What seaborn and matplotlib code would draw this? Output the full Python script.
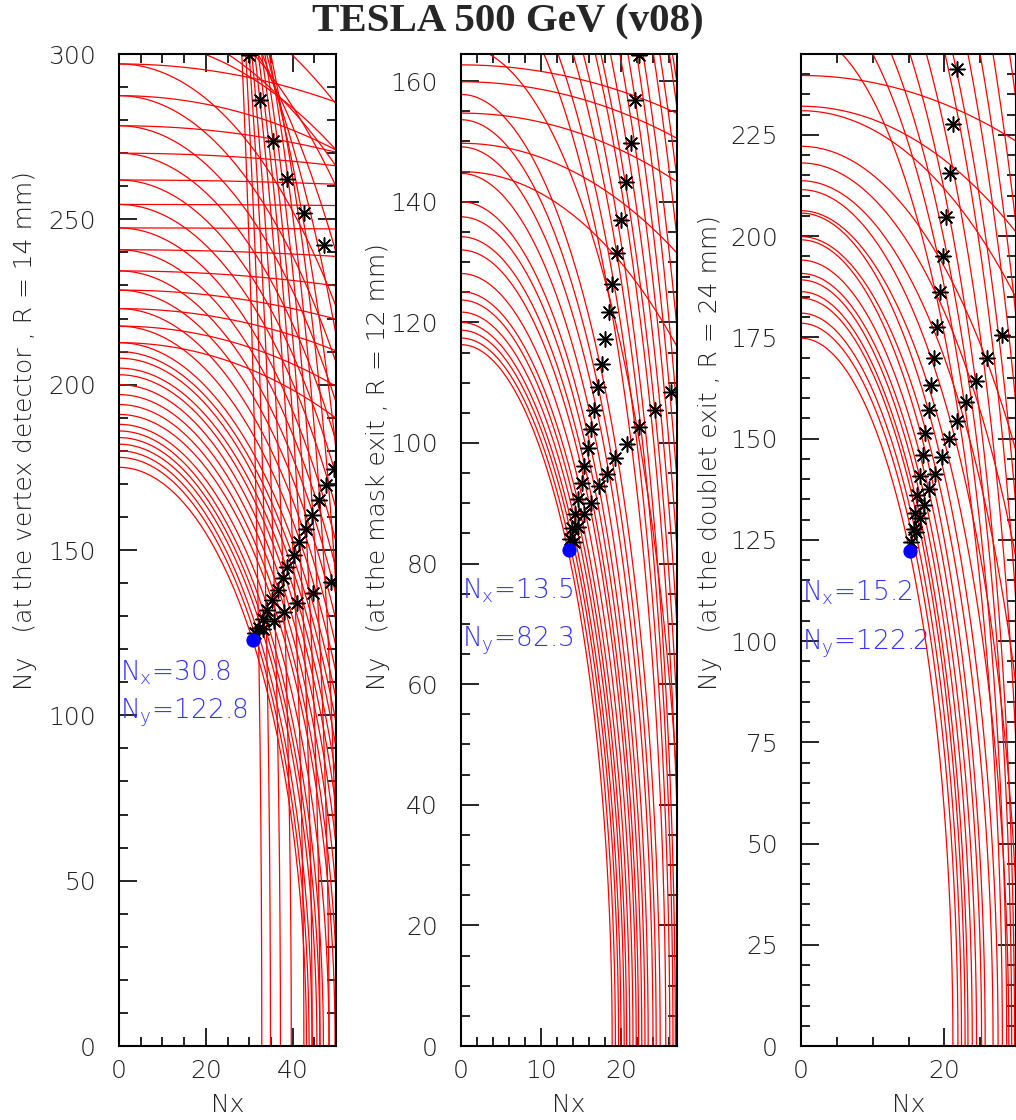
import numpy as np
import pandas as pd
import matplotlib
matplotlib.use("Agg")
import matplotlib.pyplot as plt
import seaborn as sns
from matplotlib.ticker import MultipleLocator

sns.set_theme(style="white")
plt.rcParams['font.family'] = ['DejaVu Sans']
plt.rcParams['mathtext.default'] = 'regular'

# ---------------- data ----------------
title = "TESLA 500 GeV (v08)"
xlabel = "Nx"
ylabels = ["Ny   (at the vertex detector , R = 14 mm)",
           "Ny   (at the mask exit , R = 12 mm)",
           "Ny   (at the doublet exit , R = 24 mm)"]

# Panel 1 : vertex detector -- ellipse intercepts (on Nx axis, on Ny axis)
vd_curved_a = [43.2, 43.8, 44.5, 45.6, 46.3, 47.1, 48.4, 49.8, 50.5, 51.5,
               52.5, 53.5, 54.5, 55.5, 56.5, 57.5, 58.5, 59.5, 60.5, 61.5,
               62.5, 63.5, 65, 66.5, 68, 70, 72, 76]
vd_curved_b = [175, 178, 180, 182, 184, 186, 188, 191, 194, 197,
               200, 203, 205, 208, 210, 212.7, 217.7, 223, 228.6, 234.4,
               240.8, 247.4, 254.5, 261.9, 270, 278.3, 287.4, 297]
vd_flat_a = [111, 125, 150, 182, 256, 388, 1000, 1000, 502, 299, 210, 150, 181, 109, 97, 105]
vd_flat_b = [212.7, 217.7, 223, 228.6, 234.4, 240.8, 247.4, 254.5, 261.9, 270, 278.3, 287.4, 297, 305, 310.5, 324]
vd_steep_a = [84.5, 71.6, 63.2, 57.1, 53.4, 50.5, 48.4, 46.3, 44.5, 42.6, 39.7, 37.2, 34.9, 32.9]
vd_steep_b = [322.5, 335.4, 351.8, 373.6, 397, 412, 417, 426, 433, 442, 471, 507, 548, 588]
vd_star_x = [30.0, 32.5, 35.4, 38.6, 42.6, 47.3,
             31.3, 32.3, 33.1, 34.2, 35.3, 36.6, 37.7, 38.8, 40.3, 41.5, 43.0, 44.5, 46.1, 47.6, 49.5,
             33.2, 35.8, 38.1, 41.1, 44.6, 48.8]
vd_star_y = [299.7, 286.2, 273.6, 262.2, 251.9, 242.2,
             124.9, 126.5, 129.0, 132.0, 134.8, 138.0, 141.6, 144.9, 148.5, 152.4, 156.4, 160.6, 165.0, 169.6, 174.6,
             126.0, 128.5, 131.3, 134.0, 137.0, 140.3]
vd_best = [30.8, 122.8]

# Panel 2 : mask exit
mk_curved_a = [18.9, 19.3, 19.7, 20.0, 20.4, 20.7, 21.1, 21.5, 21.9, 22.2,
               22.6, 23.0, 23.4, 24.0, 24.4, 24.9]
mk_curved_b = [116.3, 117.4, 118.7, 120.0, 121.7, 123.7, 125.1, 128.1, 132.0, 134.2,
               137.5, 140.0, 144.7, 149.1, 153.6, 157.8]
mk_flat_a = [45, 56.5, 71.7, 80, 87]
mk_flat_b = [145.0, 149.7, 154.7, 159.9, 162.7]
mk_steep_a = [28, 25.6, 26.1, 26.5, 26.8, 27.5, 28, 28.5, 29, 29.5, 30, 31, 32, 33, 34, 35]
mk_steep_b = [165.8, 179.9, 185.8, 193.8, 200.3, 207.7, 210.6, 217.8, 225.8, 232.7,
              241.4, 242.3, 249.5, 250.1, 256, 251]
mk_star_x = [22.3, 21.8, 21.2, 20.6, 20.0, 19.5, 18.9, 18.5, 18.0,
             17.6, 17.1, 16.6, 16.3, 15.9, 15.4, 15.1, 14.6, 14.2, 13.9, 13.6,
             14.1, 14.6, 15.4, 16.2, 17.2, 18.2, 19.3, 20.7, 22.2, 24.2, 26.3]
mk_star_y = [164.3, 156.9, 149.7, 143.2, 137.0, 131.5, 126.4, 121.7, 117.3,
             113.1, 109.2, 105.5, 102.3, 99.1, 96.1, 93.3, 90.7, 88.2, 85.9, 84.0,
             83.6, 86.1, 88.2, 90.1, 92.8, 94.9, 97.5, 99.8, 102.6, 105.5, 108.5]
mk_best = [13.5, 82.3]

# Panel 3 : doublet exit
db_curved_a = [21.2, 21.9, 22.4, 22.9, 23.3, 23.9, 24.5, 25.2, 25.7, 26.8,
               27.5, 29.0, 30.5, 33, 36, 40, 50, 60, 83]
db_curved_b = [174.8, 178.5, 181, 184.7, 186.3, 189.2, 190.8, 194.1, 199.1, 199.9,
               205.7, 206.3, 211.5, 213.7, 218.1, 222.2, 231, 232.1, 239.7]
db_steep_a = [28.1, 28.7, 29.4, 29.8, 31, 32, 33, 34, 35, 36, 38]
db_steep_b = [250.2, 261.4, 271.2, 284.9, 296.8, 314.9, 319.7, 336.4, 350, 366.9, 381]
db_star_x = [21.8, 21.2, 20.8, 20.3, 19.8, 19.4, 19.0, 18.6, 18.2,
             17.8, 17.3, 17.0, 16.6, 16.2, 15.9, 15.7,
             28.0, 26.0, 24.4, 23.0, 21.8, 20.7, 19.7, 18.7, 17.9, 17.2, 16.6, 16.0, 15.3]
db_star_y = [241.2, 227.8, 215.6, 204.7, 195.0, 186.1, 177.5, 169.9, 163.2,
             157.0, 151.4, 145.9, 140.8, 136.2, 131.7, 127.7,
             175.6, 170.0, 164.3, 159.1, 154.3, 149.8, 145.5, 141.3, 137.6, 133.7, 130.4, 126.9, 124.4]
db_best = [15.2, 122.2]

panels = [
    dict(a=vd_curved_a + vd_flat_a + vd_steep_a, b=vd_curved_b + vd_flat_b + vd_steep_b,
         sx=vd_star_x, sy=vd_star_y, best=vd_best,
         xlim=50, ylim=300, xmaj=20, xmin=5, ymaj=50, ymin=10,
         left=119, right=336, ylab_x=25, txt_y=(0.376, 0.336)),
    dict(a=mk_curved_a + mk_flat_a + mk_steep_a, b=mk_curved_b + mk_flat_b + mk_steep_b,
         sx=mk_star_x, sy=mk_star_y, best=mk_best,
         xlim=27, ylim=164.5, xmaj=10, xmin=2, ymaj=20, ymin=5,
         left=461, right=677, ylab_x=378, txt_y=(0.459, 0.409)),
    dict(a=db_curved_a + db_steep_a, b=db_curved_b + db_steep_b,
         sx=db_star_x, sy=db_star_y, best=db_best,
         xlim=30, ylim=245, xmaj=20, xmin=5, ymaj=25, ymin=5,
         left=801, right=1016, ylab_x=710, txt_y=(0.457, 0.406)),
]

W, H = 1016, 1120
fig = plt.figure(figsize=(W / 100, H / 100), dpi=100)
top_px, bot_px = 54, 1046
label_color = '#222222'
blue_txt = '#3333ff'

def ellipse_frame(a_list, b_list):
    t = np.linspace(0, np.pi / 2, 3000)
    parts = []
    for i, (a, b) in enumerate(zip(a_list, b_list)):
        parts.append(pd.DataFrame({'x': a * np.cos(t), 'y': b * np.sin(t), 'curve': i}))
    return pd.concat(parts, ignore_index=True)

for p in panels:
    ax = fig.add_axes([p['left'] / W, 1 - bot_px / H,
                       (p['right'] - p['left']) / W, (bot_px - top_px) / H])
    df = ellipse_frame(p['a'], p['b'])
    sns.lineplot(data=df, x='x', y='y', units='curve', estimator=None, sort=False,
                 color='#ff0000', lw=0.9, ax=ax, legend=False)
    sns.scatterplot(x=p['sx'], y=p['sy'], marker=(8, 2, 0), color='black',
                    s=120, linewidth=1.1, ax=ax, zorder=5, legend=False)
    sns.scatterplot(x=[p['best'][0]], y=[p['best'][1]], marker='o', color='#0000ff',
                    edgecolor='#0000ff', s=90, ax=ax, zorder=6, legend=False)
    ax.set_xlim(0, p['xlim'])
    ax.set_ylim(0, p['ylim'])
    ax.set_xlabel('')
    ax.set_ylabel('')
    ax.xaxis.set_major_locator(MultipleLocator(p['xmaj']))
    ax.xaxis.set_minor_locator(MultipleLocator(p['xmin']))
    ax.yaxis.set_major_locator(MultipleLocator(p['ymaj']))
    ax.yaxis.set_minor_locator(MultipleLocator(p['ymin']))
    ax.tick_params(which='both', direction='in', top=True, right=True,
                   bottom=True, left=True, color='black', width=1.2)
    ax.tick_params(which='major', length=13, labelsize=18, labelcolor=label_color)
    ax.tick_params(which='minor', length=6.5)
    ax.tick_params(axis='y', which='major', pad=16.5)
    ax.tick_params(axis='x', which='major', pad=9)
    for lab in ax.get_xticklabels() + ax.get_yticklabels():
        lab.set_fontweight('light')
    for s in ax.spines.values():
        s.set_color('black')
        s.set_linewidth(1.5)
        s.set_visible(True)
    bx, by = p['best']
    ax.text(0.003, p['txt_y'][0], 'N$_{x}$=%.1f' % bx, transform=ax.transAxes,
            color=blue_txt, fontsize=19, fontweight='light', ha='left', va='center', zorder=1)
    ax.text(0.003, p['txt_y'][1], 'N$_{y}$=%.1f' % by, transform=ax.transAxes,
            color=blue_txt, fontsize=19, fontweight='light', ha='left', va='center', zorder=1)
    cx = (p['left'] + p['right']) / 2 / W
    fig.text(cx, 1 - 1105 / H, xlabel, ha='center', va='center', fontsize=18,
             color=label_color, fontweight='light')

for p, lab in zip(panels, ylabels):
    fig.text(p['ylab_x'] / W, 1 - 690 / H, lab, rotation=90, ha='center', va='bottom',
             fontsize=18, color=label_color, fontweight='light')

fig.text(0.5, 1 - 22 / H, title, ha='center', va='center', fontsize=29.5,
         fontweight='bold', family=['Liberation Serif', 'DejaVu Serif'])

fig.savefig('out.png', dpi=100)
